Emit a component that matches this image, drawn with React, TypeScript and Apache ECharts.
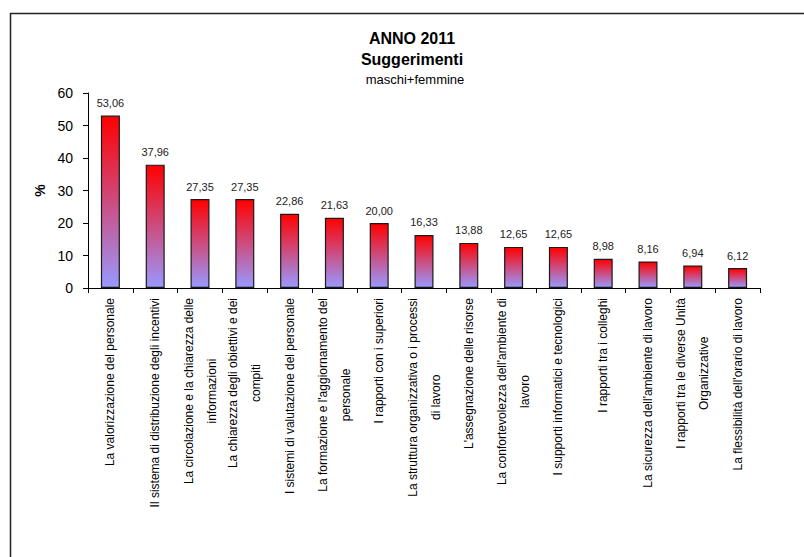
import React, { useEffect, useRef } from "react";
import * as echarts from "echarts";

const categories: string[] = [
  "La valorizzazione del personale",
  "Il sistema di distribuzione degli incentivi",
  "La circolazione e la chiarezza delle\ninformazioni",
  "La chiarezza degli obiettivi e dei\ncompiti",
  "I sistemi di valutazione del personale",
  "La formazione e l'aggiornamento del\npersonale",
  "I rapporti con i superiori",
  "La struttura organizzativa o i processi\ndi lavoro",
  "L'assegnazione delle risorse",
  "La confortevolezza dell'ambiente di\nlavoro",
  "I supporti informatici e tecnologici",
  "I rapporti tra i colleghi",
  "La sicurezza dell'ambiente di lavoro",
  "I rapporti tra le diverse Unità\nOrganizzative",
  "La flessibilità dell'orario di lavoro",
];

const values: number[] = [
  53.06, 37.96, 27.35, 27.35, 22.86, 21.63, 20.0, 16.33, 13.88, 12.65, 12.65,
  8.98, 8.16, 6.94, 6.12,
];

const titleLines: string[] = ["ANNO 2011", "Suggerimenti", "maschi+femmine"];
const yAxisName = "%";

const FONT = "'Liberation Sans', Arial, sans-serif";

export default function App() {
  const ref = useRef<HTMLDivElement>(null);

  useEffect(() => {
    if (!ref.current) return;
    const chart = echarts.init(ref.current, undefined, { renderer: "svg" });
    chart.setOption({
      animation: false,
      backgroundColor: "#ffffff",
      textStyle: { fontFamily: FONT },
      graphic: [
        {
          type: "rect",
          left: 8,
          top: 11,
          shape: { width: 900, height: 700 },
          style: { fill: "none", stroke: "#222", lineWidth: 1.5 },
          silent: true,
        },
        {
          type: "text",
          x: 412,
          y: 38,
          style: {
            text: titleLines[0],
            fontFamily: FONT,
            fontSize: 16,
            fontWeight: "bold",
            fill: "#000",
            align: "center",
            verticalAlign: "middle",
          },
        },
        {
          type: "text",
          x: 412,
          y: 59,
          style: {
            text: titleLines[1],
            fontFamily: FONT,
            fontSize: 16,
            fontWeight: "bold",
            fill: "#000",
            align: "center",
            verticalAlign: "middle",
          },
        },
        {
          type: "text",
          x: 415,
          y: 79,
          style: {
            text: titleLines[2],
            fontFamily: FONT,
            fontSize: 13,
            fill: "#000",
            align: "center",
            verticalAlign: "middle",
          },
        },
      ],
      grid: { left: 88, right: 44, top: 93, bottom: 269, containLabel: false },
      xAxis: {
        type: "category",
        data: categories,
        axisLine: { show: true, lineStyle: { color: "#000", width: 1 } },
        axisTick: { show: true, length: 5, lineStyle: { color: "#000" } },
        axisLabel: {
          interval: 0,
          rotate: 90,
          margin: 10,
          color: "#000",
          formatter: (v: string) =>
            v
              .split("\n")
              .map((l) => "{c|" + l + "}")
              .join("\n"),
          rich: {
            c: {
              align: "center",
              fontSize: 12,
              lineHeight: 23,
              fontFamily: FONT,
              color: "#000",
            },
          },
        },
      },
      yAxis: {
        type: "value",
        min: 0,
        max: 60,
        interval: 10,
        name: yAxisName,
        nameLocation: "middle",
        nameRotate: 90,
        nameGap: 40,
        nameTextStyle: {
          fontSize: 14,
          fontWeight: "bold",
          color: "#000",
          fontFamily: FONT,
        },
        axisLine: { show: true, lineStyle: { color: "#000", width: 1 } },
        axisTick: { show: true, length: 5, lineStyle: { color: "#000" } },
        splitLine: { show: false },
        axisLabel: {
          margin: 15,
          fontSize: 14,
          color: "#000",
          fontFamily: FONT,
        },
      },
      series: [
        {
          type: "bar",
          data: values,
          barWidth: 19,
          itemStyle: {
            color: new echarts.graphic.LinearGradient(0, 0, 0, 1, [
              { offset: 0, color: "#ff0000" },
              { offset: 1, color: "#9999ff" },
            ]),
            borderColor: "#1a1a1a",
            borderWidth: 1.2,
          },
          label: {
            show: true,
            position: "top",
            distance: 7,
            fontSize: 11,
            color: "#222",
            fontFamily: FONT,
            formatter: (p: any) => p.value.toFixed(2).replace(".", ","),
          },
        },
      ],
    });
    return () => chart.dispose();
  }, []);

  return (
    <div
      ref={ref}
      style={{ position: "fixed", left: 0, top: 0, width: 804, height: 557 }}
    />
  );
}
